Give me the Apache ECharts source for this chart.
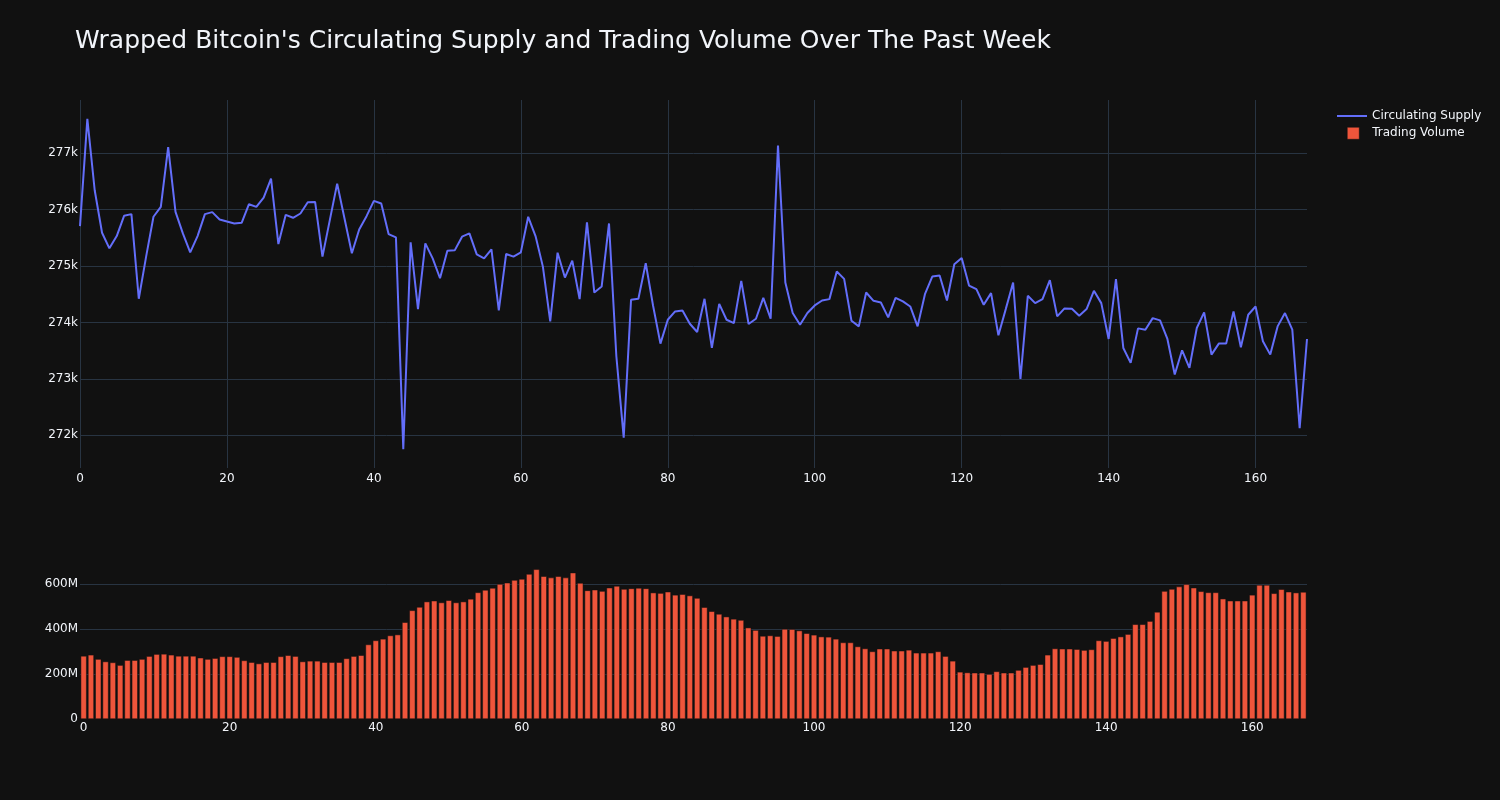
<!DOCTYPE html>
<html>
<head>
<meta charset="utf-8">
<script src="https://cdn.jsdelivr.net/npm/echarts@6/dist/echarts.min.js"></script>
<style>
html,body{margin:0;padding:0;background:#111111;}
#chart{width:1500px;height:800px;}
</style>
</head>
<body>
<div id="chart"></div>
<script>
const titleText = "Wrapped Bitcoin's Circulating Supply and Trading Volume Over The Past Week";
const hours = Array.from({length: 168}, (_, i) => i);
const circulatingSupply = [
275706,277606,276341,275588,275312,275529,275888,275918,274418,275165,
275871,276047,277106,275959,275576,275241,275529,275918,275953,275824,
275788,275753,275765,276094,276047,276212,276547,275388,275906,275853,
275929,276129,276135,275165,275812,276459,275841,275224,275647,275882,
276153,276106,275565,275506,271753,275418,274235,275400,275135,274782,
275271,275276,275518,275576,275206,275135,275294,274212,275212,275165,
275241,275871,275529,274988,274018,275235,274794,275094,274412,275771,
274529,274635,275753,273400,271959,274400,274418,275047,274294,273624,
274047,274194,274212,273976,273829,274418,273547,274329,274047,273988,
274735,273971,274065,274435,274065,277135,274706,274165,273959,274165,
274300,274388,274412,274900,274771,274029,273929,274529,274382,274353,
274088,274435,274371,274282,273929,274500,274812,274829,274388,275029,
275141,274653,274588,274312,274518,273771,274235,274706,273000,274471,
274341,274412,274747,274106,274247,274241,274118,274235,274559,274341,
273706,274765,273547,273282,273894,273871,274076,274035,273706,273076,
273506,273194,273900,274176,273429,273624,273624,274194,273559,274135,
274282,273665,273429,273929,274165,273871,272124,273706
];
// trading volume in millions (USD)
const tradingVolumeM = [
281,286,267,256,252,240,262,262,267,280,
289,290,286,281,281,281,273,267,271,279,
279,276,261,253,247,253,253,279,284,280,
256,259,259,253,253,253,270,280,284,332,
350,357,372,376,431,484,499,523,527,519,
529,519,523,535,564,575,584,601,607,619,
624,646,667,636,630,636,630,652,606,573,
576,570,585,593,579,582,584,582,563,561,
567,553,556,550,539,498,480,468,456,446,
441,407,396,370,372,369,401,400,394,382,
375,367,366,357,341,341,323,314,301,313,
313,304,304,308,295,295,295,301,280,259,
210,207,206,206,200,212,206,206,218,231,
240,244,286,314,313,313,311,307,310,350,
347,360,367,378,422,422,436,477,570,579,
590,600,585,569,564,564,536,527,527,527,
553,597,597,560,578,567,563,566
];
const supplyTicks = [272000,273000,274000,275000,276000,277000];
const volumeTicks = [0,200,400,600];

const textColor = '#f2f5fa';
const gridColor = '#283442';
const font = 'DejaVu Sans';

const chart = echarts.init(document.getElementById('chart'));
chart.setOption({
  backgroundColor: '#111111',
  animation: false,
  title: {
    text: titleText,
    left: 75, top: 29, padding: 0,
    textStyle: {color: textColor, fontFamily: font, fontSize: 25, fontWeight: 'normal'}
  },
  legend: [
    {
      data: [{name: 'Circulating Supply'}],
      left: 1332, top: 105, orient: 'vertical',
      icon: 'rect', itemWidth: 30, itemHeight: 2,
      textStyle: {color: textColor, fontFamily: font, fontSize: 12}
    },
    {
      data: [{name: 'Trading Volume'}],
      left: 1342, top: 122, orient: 'vertical',
      icon: 'rect', itemWidth: 12, itemHeight: 12,
      itemStyle: {borderColor: '#111111', borderWidth: 0.5},
      textStyle: {color: textColor, fontFamily: font, fontSize: 12, padding: [0,0,0,8]}
    }
  ],
  grid: [
    {left: 80, top: 100, width: 1227, height: 368},
    {left: 80, top: 561, width: 1227, height: 158}
  ],
  xAxis: [
    {
      type: 'value', gridIndex: 0, min: 0, max: 167, interval: 20,
      axisLine: {show: false}, axisTick: {show: false},
      axisLabel: {color: textColor, fontFamily: font, fontSize: 12, margin: 5, showMaxLabel: false},
      splitLine: {show: true, showMaxLine: false, lineStyle: {color: gridColor, width: 1}}
    },
    {
      type: 'category', gridIndex: 1, data: hours,
      axisLine: {show: false}, axisTick: {show: false},
      axisLabel: {color: textColor, fontFamily: font, fontSize: 12, margin: 3, interval: 19},
      splitLine: {show: false}
    }
  ],
  yAxis: [
    {
      type: 'value', gridIndex: 0, min: 271420, max: 277940,
      minInterval: 1000, maxInterval: 1000,
      axisLine: {show: false}, axisTick: {show: false},
      axisLabel: {
        color: textColor, fontFamily: font, fontSize: 12, margin: 2,
        showMinLabel: false, showMaxLabel: false,
        formatter: v => supplyTicks.includes(v) ? (v/1000) + 'k' : ''
      },
      splitLine: {show: true, showMinLine: false, showMaxLine: false, lineStyle: {color: gridColor, width: 1}}
    },
    {
      type: 'value', gridIndex: 1, min: 0, max: 704, minInterval: 200, maxInterval: 200,
      axisLine: {show: false}, axisTick: {show: false},
      axisLabel: {
        color: textColor, fontFamily: font, fontSize: 12, margin: 2,
        showMaxLabel: false,
        formatter: v => volumeTicks.includes(v) ? (v === 0 ? '0' : v + 'M') : ''
      },
      splitLine: {show: true, showMinLine: false, showMaxLine: false, lineStyle: {color: gridColor, width: 1}}
    }
  ],
  series: [
    {
      name: 'Circulating Supply', type: 'line', xAxisIndex: 0, yAxisIndex: 0,
      data: hours.map((h, i) => [h, circulatingSupply[i]]),
      showSymbol: false, symbol: 'none',
      lineStyle: {color: '#636efa', width: 2},
      itemStyle: {color: '#636efa'}
    },
    {
      name: 'Trading Volume', type: 'bar', xAxisIndex: 1, yAxisIndex: 1,
      data: tradingVolumeM,
      barCategoryGap: '18%',
      itemStyle: {color: '#ef553b', borderColor: '#111111', borderWidth: 0.5}
    }
  ]
});
</script>
</body>
</html>
